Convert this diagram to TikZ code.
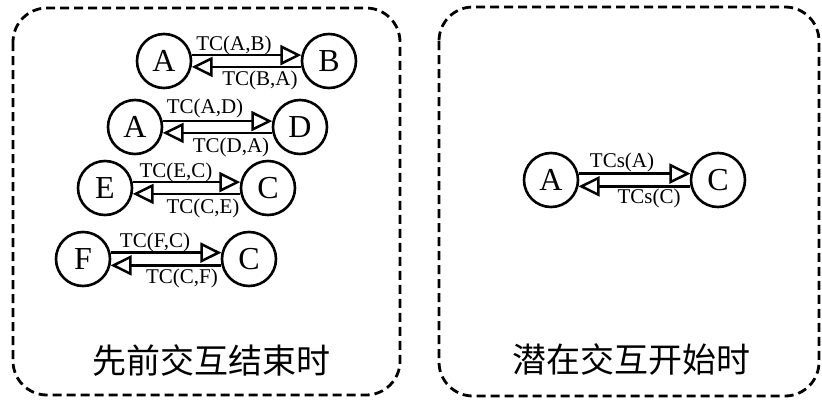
\documentclass[tikz,border=0pt]{standalone}
\usepackage{fontspec}
\setmainfont{Liberation Serif}
\newfontfamily\cjk{Noto Sans CJK SC}
\usetikzlibrary{arrows.meta}
\tikzset{
  panel/.style={draw, line width=2.8pt, dash pattern=on 9pt off 5pt, rounded corners=34pt},
  vtx/.style={draw, circle, line width=2.6pt, minimum size=54pt, inner sep=0pt, font=\fontsize{32}{32}\selectfont},
  arr/.style={line width=2.5pt, -{Triangle[open, length=21pt, width=20pt, line width=2.5pt]}},
  lbl/.style={inner sep=0pt, font=\fontsize{21}{21}\selectfont},
  captext/.style={inner sep=0pt, font=\cjk\fontsize{34}{34}\selectfont}
}
\begin{document}
\begin{tikzpicture}[x=1pt, y=-1pt]
\useasboundingbox (0,0) rectangle (822,399);
\draw[panel] (13,8) rectangle (400,395);
\draw[panel] (439,7) rectangle (819,396);

% row 1
\node[vtx] (a1) at (164,61) {A};
\node[vtx] (b1) at (329,61) {B};
\draw[arr] (a1.12) -- (b1.168);
\draw[arr] (b1.-168) -- (a1.-12);
\node[lbl] (l1a) at (234,45) {TC(A,B)};
\node[lbl] (l1b) at (260,80) {TC(B,A)};

% row 2
\node[vtx] (a2) at (135,127) {A};
\node[vtx] (d2) at (300,127) {D};
\draw[arr] (a2.12) -- (d2.168);
\draw[arr] (d2.-168) -- (a2.-12);
\node[lbl] (l2a) at (205,108) {TC(A,D)};
\node[lbl] (l2b) at (231,147) {TC(D,A)};

% row 3
\node[vtx] (e3) at (105,188) {E};
\node[vtx] (c3) at (268,188) {C};
\draw[arr] (e3.12) -- (c3.168);
\draw[arr] (c3.-168) -- (e3.-12);
\node[lbl] (l3a) at (176,172) {TC(E,C)};
\node[lbl] (l3b) at (203,208) {TC(C,E)};

% row 4
\node[vtx] (f4) at (83,259) {F};
\node[vtx] (c4) at (249,259) {C};
\draw[arr] (f4.13) -- (c4.167);
\draw[arr] (c4.-167) -- (f4.-13);
\node[lbl] (l4a) at (155,242) {TC(F,C)};
\node[lbl] (l4b) at (182,278) {TC(C,F)};

% right panel
\node[vtx] (ar) at (551,180) {A};
\node[vtx] (cr) at (718,180) {C};
\draw[arr] (ar.13) -- (cr.167);
\draw[arr] (cr.-167) -- (ar.-13);
\node[lbl] (lra) at (622,162) {TCs(A)};
\node[lbl] (lrb) at (649,198) {TCs(C)};

\node[captext] (capl) at (211,361) {先前交互结束时};
\node[captext] (capr) at (631,359) {潜在交互开始时};
\end{tikzpicture}
\end{document}
